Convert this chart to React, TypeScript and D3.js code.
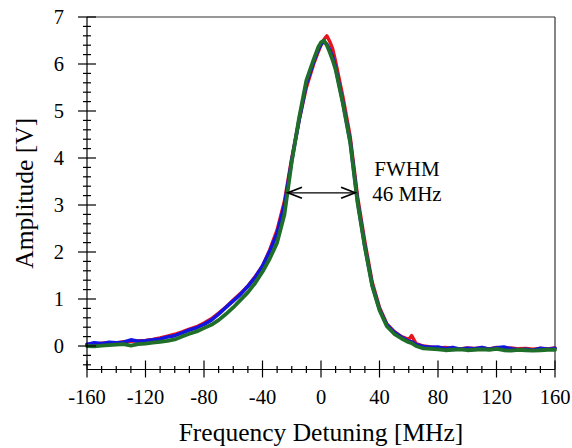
import React from "react";
import * as d3 from "d3";

const freq = [-160,-155,-150,-145,-140,-135,-130,-125,-120,-115,-110,-105,-100,-95,-90,-85,-80,-75,-70,-65,-60,-55,-50,-45,-40,-35,-30,-25,-20,-15,-10,-5,-2,0,2,4,6,8,10,15,20,25,30,35,40,45,50,55,60,62,65,70,75,80,85,90,95,100,105,110,115,120,125,130,135,140,145,150,155,160];

const redAmp = [0.04,0.03,0.06,0.07,0.06,0.09,0.10,0.11,0.12,0.14,0.17,0.21,0.25,0.30,0.36,0.41,0.49,0.58,0.70,0.83,0.98,1.12,1.28,1.48,1.70,2.05,2.47,3.08,4.00,4.80,5.50,6.00,6.25,6.40,6.52,6.60,6.48,6.32,6.05,5.30,4.45,3.18,2.22,1.36,0.82,0.47,0.31,0.20,0.14,0.22,0.05,0.00,-0.02,-0.04,-0.03,-0.05,-0.06,-0.04,-0.05,-0.04,-0.06,-0.03,-0.05,-0.04,-0.06,-0.05,-0.07,-0.05,-0.06,-0.04];

const blueAmp = [0.03,0.07,0.05,0.08,0.07,0.08,0.13,0.10,0.11,0.13,0.15,0.19,0.22,0.28,0.34,0.39,0.46,0.55,0.68,0.82,0.96,1.10,1.27,1.46,1.70,2.02,2.40,3.00,3.95,4.80,5.58,6.05,6.30,6.42,6.48,6.42,6.30,6.14,5.92,5.18,4.35,3.08,2.12,1.30,0.78,0.45,0.29,0.19,0.10,0.09,0.03,-0.01,-0.03,-0.02,-0.06,-0.03,-0.07,-0.05,-0.06,-0.03,-0.07,-0.04,-0.02,-0.06,-0.08,-0.07,-0.09,-0.05,-0.07,-0.05];

const greenAmp = [0.00,-0.01,0.01,0.02,0.03,0.04,0.01,0.04,0.05,0.07,0.09,0.11,0.14,0.20,0.26,0.31,0.38,0.45,0.55,0.68,0.82,0.98,1.14,1.34,1.58,1.86,2.20,2.80,3.92,4.85,5.65,6.10,6.35,6.46,6.50,6.40,6.25,6.08,5.88,5.15,4.32,3.05,2.10,1.28,0.76,0.42,0.26,0.16,0.08,0.06,0.00,-0.05,-0.06,-0.07,-0.09,-0.08,-0.07,-0.09,-0.08,-0.07,-0.08,-0.06,-0.09,-0.10,-0.08,-0.09,-0.10,-0.09,-0.08,-0.08];

const xTickLabels = [-160,-120,-80,-40,0,40,80,120,160];
const yTickLabels = [0,1,2,3,4,5,6,7];
const fwhmLeft = -22.6;
const fwhmRight = 23.3;
const fwhmLevel = 3.26;
const fwhmText = ["FWHM", "46 MHz"];

const W = 572, H = 448;
const L = 87, R = 555, T = 17, B = 369.5;
const FONT = "'Liberation Serif', 'Times New Roman', serif";

export default function App() {
  const x = d3.scaleLinear().domain([-160, 160]).range([L, R]);
  const y = d3.scaleLinear().domain([-0.5, 7]).range([B, T]);

  const series = [
    { vals: redAmp, color: "#e8141c", w: 3.4 },
    { vals: blueAmp, color: "#1414e0", w: 3.6 },
    { vals: greenAmp, color: "#1f6e2a", w: 3.8 },
  ];

  const line = (vals: number[]) =>
    d3.line<number>().x((_, i) => x(freq[i])).y((v) => y(v)).curve(d3.curveLinear)(vals) || "";

  const xMinor = d3.range(-150, 160, 10).filter((v) => v % 40 !== 0);
  const yMinor = d3.range(-4, 70, 2).map((v) => v / 10).filter((v) => Math.abs(v - Math.round(v)) > 1e-6);

  const ay = y(fwhmLevel);
  const ax1 = x(fwhmLeft);
  const ax2 = x(fwhmRight);
  const hl = 14, hw = 5.5;

  return (
    <svg width={W} height={H} style={{ position: "absolute", left: 0, top: 0, background: "#fff" }} fontFamily={FONT}>
      {/* frame */}
      <line x1={L} y1={T} x2={R} y2={T} stroke="#333" strokeWidth={1.2} />
      <line x1={R} y1={T} x2={R} y2={B} stroke="#333" strokeWidth={1.2} />

      {/* data */}
      {series.map((s, i) => (
        <path key={i} d={line(s.vals)} fill="none" stroke={s.color} strokeWidth={s.w} strokeLinejoin="round" strokeLinecap="round" />
      ))}

      {/* axes */}
      <line x1={L} y1={T} x2={L} y2={B} stroke="#000" strokeWidth={1.2} />
      <line x1={L} y1={B} x2={R} y2={B} stroke="#000" strokeWidth={1.2} />

      {yTickLabels.map((v) => (
        <g key={"yt" + v}>
          <line x1={L - 9} x2={L + 9} y1={y(v)} y2={y(v)} stroke="#000" strokeWidth={1.2} />
          <text x={64} y={y(v)} textAnchor="end" dominantBaseline="central" fontSize={20.5}>{v}</text>
        </g>
      ))}
      {yMinor.map((v) => (
        <line key={"ym" + v} x1={L - 4} x2={L + 4} y1={y(v)} y2={y(v)} stroke="#000" strokeWidth={1.2} />
      ))}

      {xTickLabels.map((v) => (
        <g key={"xt" + v}>
          <line x1={x(v)} x2={x(v)} y1={B - 9} y2={B + 8} stroke="#000" strokeWidth={1.2} />
          <text x={x(v)} y={404} textAnchor="middle" fontSize={20.5}>{v}</text>
        </g>
      ))}
      {xMinor.map((v) => (
        <line key={"xm" + v} x1={x(v)} x2={x(v)} y1={B - 3.5} y2={B + 3.5} stroke="#000" strokeWidth={1.2} />
      ))}

      {/* FWHM arrow */}
      <line x1={ax1} x2={ax2} y1={ay} y2={ay} stroke="#000" strokeWidth={1.2} />
      <path d={`M${ax1 + hl},${ay - hw} L${ax1},${ay} L${ax1 + hl},${ay + hw}`} fill="none" stroke="#000" strokeWidth={1.8} />
      <path d={`M${ax2 - hl},${ay - hw} L${ax2},${ay} L${ax2 - hl},${ay + hw}`} fill="none" stroke="#000" strokeWidth={1.8} />
      <text x={407} y={176} textAnchor="middle" fontSize={21}>{fwhmText[0]}</text>
      <text x={407} y={201} textAnchor="middle" fontSize={21}>{fwhmText[1]}</text>

      {/* titles */}
      <text x={(L + R) / 2} y={441} textAnchor="middle" fontSize={25.5}>Frequency Detuning [MHz]</text>
      <text transform={`translate(33,${(T + B) / 2}) rotate(-90)`} textAnchor="middle" fontSize={25.5}>Amplitude [V]</text>
    </svg>
  );
}
